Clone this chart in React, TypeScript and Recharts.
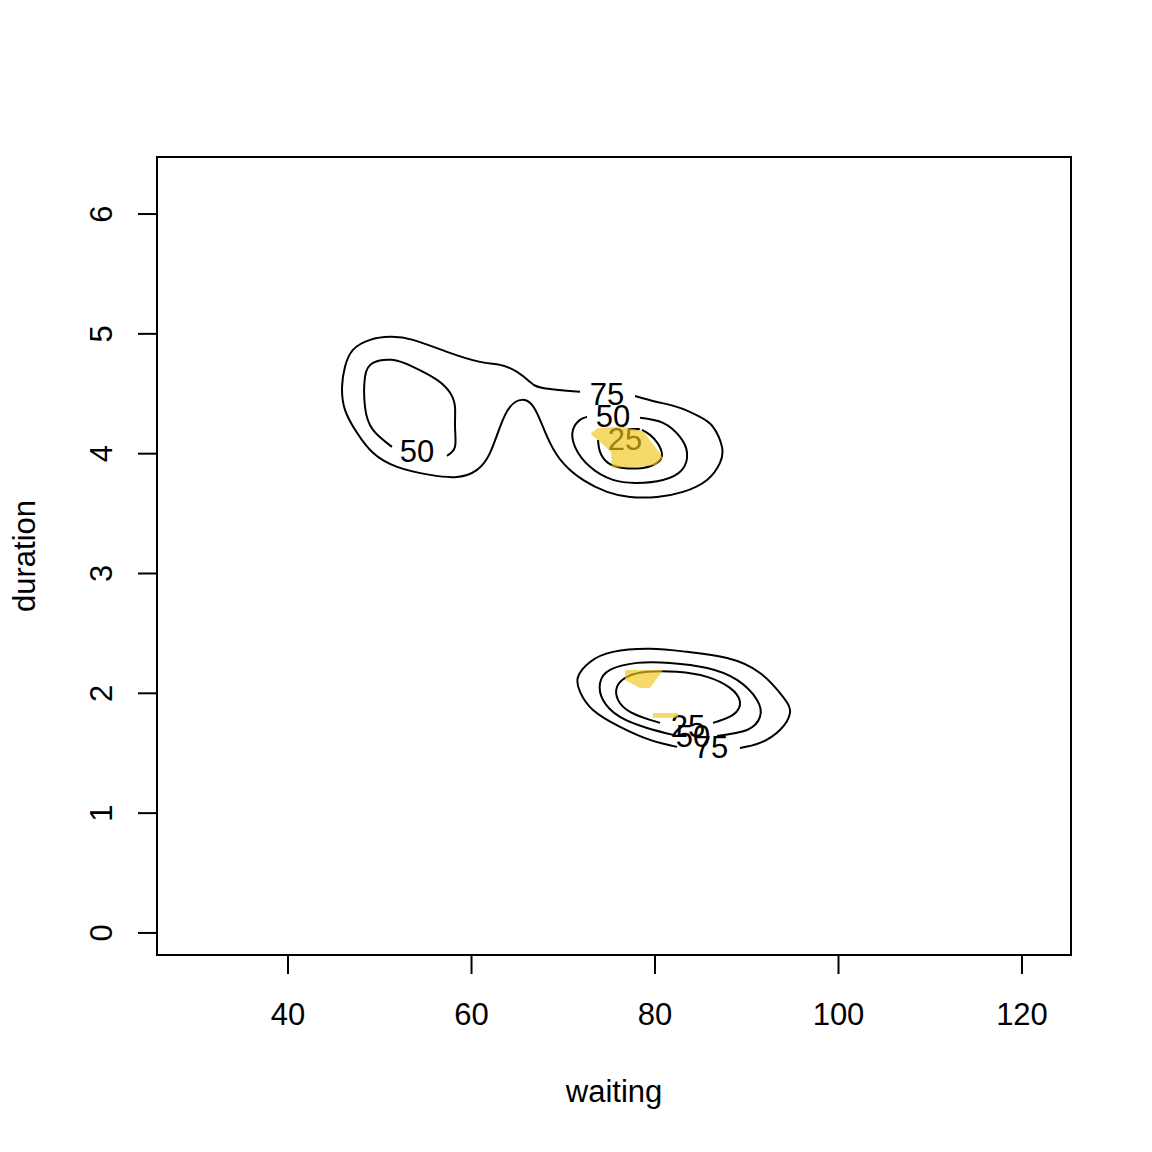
import React from "react";
import {
  ComposedChart,
  Line,
  Area,
  Scatter,
  XAxis,
  YAxis,
  ReferenceArea,
} from "recharts";

const FONT = "'Liberation Sans', Arial, Helvetica, sans-serif";

const X_MIN = 25.72;
const X_MAX = 125.34;
const Y_MIN = -0.184;
const Y_MAX = 6.476;
const xTicks = [40, 60, 80, 100, 120];
const yTicks = [0, 1, 2, 3, 4, 5, 6];

// upper mode, 75% contour (gap left for the label)
const upperOuter75 = [
  { x: 71.83, y: 4.516 }, { x: 67.79, y: 4.549 }, { x: 66.38, y: 4.599 },
  { x: 64.96, y: 4.683 }, { x: 63.11, y: 4.741 }, { x: 60.93, y: 4.766 },
  { x: 57.33, y: 4.85 }, { x: 53.62, y: 4.95 }, { x: 51.12, y: 4.975 },
  { x: 48.94, y: 4.95 }, { x: 47.08, y: 4.866 }, { x: 46.21, y: 4.725 },
  { x: 45.89, y: 4.558 }, { x: 46.21, y: 4.366 }, { x: 47.52, y: 4.174 },
  { x: 49.26, y: 4.007 }, { x: 51.88, y: 3.89 }, { x: 55.48, y: 3.823 },
  { x: 58.42, y: 3.806 }, { x: 60.6, y: 3.865 }, { x: 62.02, y: 4.007 },
  { x: 63.11, y: 4.224 }, { x: 64.2, y: 4.391 }, { x: 65.5, y: 4.449 },
  { x: 66.59, y: 4.407 }, { x: 67.47, y: 4.282 }, { x: 68.56, y: 4.09 },
  { x: 69.97, y: 3.923 }, { x: 72.15, y: 3.781 }, { x: 74.77, y: 3.681 },
  { x: 77.28, y: 3.639 }, { x: 80.22, y: 3.639 }, { x: 83.05, y: 3.681 },
  { x: 85.67, y: 3.781 }, { x: 87.08, y: 3.923 }, { x: 87.3, y: 4.057 },
  { x: 86.32, y: 4.224 }, { x: 84.9, y: 4.307 }, { x: 82.72, y: 4.382 },
  { x: 80.22, y: 4.432 }, { x: 77.82, y: 4.482 },
];

const upperLeft50 = [
  { x: 51.33, y: 4.057 }, { x: 49.26, y: 4.199 }, { x: 48.39, y: 4.391 },
  { x: 48.39, y: 4.641 }, { x: 49.26, y: 4.758 }, { x: 51.33, y: 4.783 },
  { x: 53.62, y: 4.725 }, { x: 56.24, y: 4.616 }, { x: 57.66, y: 4.508 },
  { x: 58.2, y: 4.391 }, { x: 58.2, y: 4.224 }, { x: 58.2, y: 4.057 },
  { x: 57.33, y: 3.982 },
];

const upperRight50 = [
  { x: 78.37, y: 4.299 }, { x: 80.87, y: 4.257 }, { x: 82.72, y: 4.14 },
  { x: 83.49, y: 4.007 }, { x: 82.94, y: 3.865 }, { x: 80.87, y: 3.781 },
  { x: 78.04, y: 3.756 }, { x: 75.42, y: 3.781 }, { x: 72.92, y: 3.89 },
  { x: 71.28, y: 4.057 }, { x: 71.06, y: 4.199 }, { x: 71.83, y: 4.282 },
  { x: 72.59, y: 4.307 },
];

const upperRight25 = [
  { x: 78.58, y: 4.199 }, { x: 79.46, y: 4.157 }, { x: 80.33, y: 4.082 },
  { x: 80.76, y: 3.99 }, { x: 80.22, y: 3.923 }, { x: 78.69, y: 3.881 },
  { x: 76.51, y: 3.881 }, { x: 74.88, y: 3.923 }, { x: 74.01, y: 4.015 },
  { x: 73.79, y: 4.115 },
];

// lower mode
const lower75 = [
  { x: 89.26, y: 1.544 }, { x: 91.44, y: 1.586 }, { x: 93.62, y: 1.694 },
  { x: 94.71, y: 1.836 }, { x: 93.95, y: 1.97 }, { x: 91.44, y: 2.17 },
  { x: 87.85, y: 2.295 }, { x: 83.49, y: 2.346 }, { x: 79.46, y: 2.371 },
  { x: 75.42, y: 2.346 }, { x: 72.92, y: 2.262 }, { x: 71.61, y: 2.137 },
  { x: 71.83, y: 2.012 }, { x: 73.24, y: 1.861 }, { x: 76.19, y: 1.72 },
  { x: 79.46, y: 1.611 }, { x: 82.4, y: 1.553 },
];

const lower50 = [
  { x: 86.76, y: 1.644 }, { x: 90.03, y: 1.694 }, { x: 91.44, y: 1.803 },
  { x: 91.12, y: 1.945 }, { x: 88.94, y: 2.112 }, { x: 85.67, y: 2.212 },
  { x: 81.64, y: 2.254 }, { x: 78.04, y: 2.254 }, { x: 75.1, y: 2.195 },
  { x: 74.01, y: 2.087 }, { x: 74.33, y: 1.945 }, { x: 76.19, y: 1.803 },
  { x: 79.13, y: 1.711 }, { x: 81.96, y: 1.653 },
];

const lower25 = [
  { x: 86.32, y: 1.753 }, { x: 88.5, y: 1.82 }, { x: 89.26, y: 1.928 },
  { x: 88.17, y: 2.045 }, { x: 85.67, y: 2.137 }, { x: 82.4, y: 2.179 },
  { x: 79.13, y: 2.179 }, { x: 76.95, y: 2.137 }, { x: 75.86, y: 2.053 },
  { x: 75.97, y: 1.945 }, { x: 77.28, y: 1.845 }, { x: 79.46, y: 1.778 },
  { x: 80.54, y: 1.753 },
];

const contourLabels = [
  { x: 74.77, y: 4.491, label: "75" },
  { x: 75.42, y: 4.307, label: "50" },
  { x: 76.73, y: 4.115, label: "25" },
  { x: 54.06, y: 4.015, label: "50" },
  { x: 83.6, y: 1.72, label: "25" },
  { x: 84.14, y: 1.636, label: "50" },
  { x: 86.1, y: 1.544, label: "75" },
];

// yellow highlighted regions, [low, high] per x
const upperPatch = [
  { x: 73.03, range: [4.16, 4.17] },
  { x: 73.79, range: [4.115, 4.215] },
  { x: 75.21, range: [4.015, 4.22] },
  { x: 75.31, range: [3.882, 4.22] },
  { x: 76.4, range: [3.886, 4.224] },
  { x: 78.69, range: [3.894, 4.19] },
  { x: 80.11, range: [3.906, 4.048] },
  { x: 80.87, range: [3.965, 3.965] },
];

const lowerPatchA = [
  { x: 76.73, range: [2.112, 2.195] },
  { x: 78.37, range: [2.045, 2.195] },
  { x: 79.46, range: [2.045, 2.195] },
  { x: 80.87, range: [2.195, 2.195] },
];

const lowerPatchB = [
  { x: 79.78, range: [1.795, 1.836] },
  { x: 82.51, range: [1.795, 1.836] },
];

const contours = [
  upperOuter75,
  upperLeft50,
  upperRight50,
  upperRight25,
  lower75,
  lower50,
  lower25,
];
const patches = [upperPatch, lowerPatchA, lowerPatchB];

function YTick(props: any) {
  const { x, y, payload } = props;
  return (
    <text
      x={x}
      y={y}
      transform={`rotate(-90 ${x} ${y})`}
      textAnchor="middle"
      fontSize={31}
      fontFamily={FONT}
      fill="#000"
    >
      {payload.value}
    </text>
  );
}

function ContourLabel(props: any) {
  const { cx, cy, payload } = props;
  return (
    <text
      x={cx}
      y={cy}
      textAnchor="middle"
      dominantBaseline="central"
      fontSize={31}
      fontFamily={FONT}
      fill="#000"
    >
      {payload.label}
    </text>
  );
}

function DurationLabel(props: any) {
  const { viewBox } = props;
  const x = viewBox.x + 35;
  const y = viewBox.y + viewBox.height / 2;
  return (
    <text
      x={x}
      y={y}
      transform={`rotate(-90 ${x} ${y})`}
      textAnchor="middle"
      fontSize={31}
      fontFamily={FONT}
      fill="#000"
    >
      duration
    </text>
  );
}

export default function App() {
  return (
    <div style={{ position: "absolute", left: 0, top: 0, background: "#fff" }}>
      <ComposedChart
        width={1152}
        height={1152}
        margin={{ top: 157, right: 81, bottom: 0, left: 0 }}
      >
        <XAxis
          type="number"
          dataKey="x"
          domain={[X_MIN, X_MAX]}
          ticks={xTicks}
          allowDataOverflow
          height={197}
          axisLine={false}
          tickLine={{ stroke: "#000", strokeWidth: 2 }}
          tickSize={19}
          tickMargin={29}
          tick={{ fontSize: 31, fill: "#000", fontFamily: FONT }}
          label={{
            value: "waiting",
            position: "insideBottom",
            offset: 50,
            fontSize: 31,
            fill: "#000",
            fontFamily: FONT,
          }}
        />
        <YAxis
          type="number"
          dataKey="y"
          domain={[Y_MIN, Y_MAX]}
          ticks={yTicks}
          allowDataOverflow
          width={157}
          axisLine={false}
          tickLine={{ stroke: "#000", strokeWidth: 2 }}
          tickSize={19}
          tickMargin={26}
          tick={<YTick />}
          label={<DurationLabel />}
        />
        <ReferenceArea
          x1={X_MIN}
          x2={X_MAX}
          y1={Y_MIN}
          y2={Y_MAX}
          fill="none"
          stroke="#000"
          strokeWidth={2}
        />
        {contours.map((c, i) => (
          <Line
            key={`c${i}`}
            data={c}
            dataKey="y"
            type="natural"
            stroke="#000"
            strokeWidth={2}
            dot={false}
            activeDot={false}
            isAnimationActive={false}
          />
        ))}
        <Scatter
          data={contourLabels}
          dataKey="y"
          shape={<ContourLabel />}
          isAnimationActive={false}
        />
        {patches.map((p, i) => (
          <Area
            key={`p${i}`}
            data={p}
            dataKey="range"
            type="linear"
            stroke="none"
            fill="#F0C419"
            fillOpacity={0.65}
            dot={false}
            activeDot={false}
            isAnimationActive={false}
            zIndex={1000}
          />
        ))}
      </ComposedChart>
    </div>
  );
}
